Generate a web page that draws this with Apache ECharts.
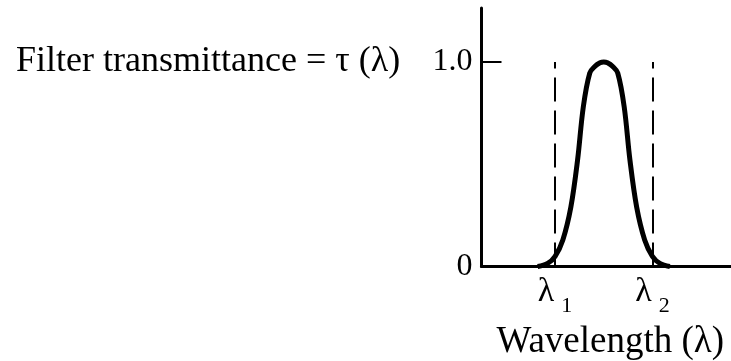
<!DOCTYPE html>
<html>
<head>
<meta charset="utf-8">
<script src="https://cdn.jsdelivr.net/npm/echarts@6/dist/echarts.min.js"></script>
<style>
  html, body { margin: 0; padding: 0; background: #fff; }
  #chart { width: 731px; height: 361px; }
</style>
</head>
<body>
<div id="chart"></div>
<script>
// Filter transmittance curve (arbitrary wavelength units)
const wavelength = [2.25, 2.65, 2.95, 3.26, 3.58, 3.85, 4.08, 4.34, 4.55, 4.75, 4.9, 5.05, 5.25, 5.46, 5.72, 5.95, 6.22, 6.54, 6.85, 7.15, 7.55];
const transmittance = [0, 0.015, 0.05, 0.13, 0.29, 0.52, 0.78, 0.946, 0.979, 0.996, 1.0, 0.996, 0.979, 0.946, 0.78, 0.52, 0.29, 0.13, 0.05, 0.015, 0];

// Band edges λ1 and λ2
const bandEdges = [2.95, 6.85];
const bandSubscripts = ['1', '2'];

// Vertical axis labels
const yTickValues = [0, 1];
const yTickLabels = ['0', '1.0'];

const serif = '"Liberation Serif", "DejaVu Serif", serif';

const chart = echarts.init(document.getElementById('chart'), null, { renderer: 'canvas' });

const curve = wavelength.map((w, i) => [w, transmittance[i]]);

chart.setOption({
  animation: false,
  backgroundColor: '#fff',
  title: {
    text: 'Filter transmittance = τ (λ)',
    left: 11,
    top: 39,
    textStyle: { fontFamily: serif, fontSize: 36, fontWeight: 'normal', color: '#000' }
  },
  grid: { left: 481.5, right: 0, top: 8, bottom: 94.5, outerBoundsMode: 'none', containLabel: false },
  xAxis: {
    type: 'value',
    min: 0,
    max: 10,
    splitLine: { show: false },
    axisLine: { onZero: false, lineStyle: { color: '#000', width: 3 } },
    axisTick: { show: false },
    axisLabel: {
      customValues: bandEdges,
      margin: 9,
      formatter: (v) => '{l|λ}{s|' + bandSubscripts[bandEdges.indexOf(v)] + '}',
      rich: {
        l: { fontFamily: serif, fontSize: 34, color: '#000', lineHeight: 34, verticalAlign: 'top' },
        s: { fontFamily: serif, fontSize: 22, color: '#000', lineHeight: 22, verticalAlign: 'top', padding: [20, 0, 0, 7] }
      }
    },
    name: 'Wavelength (λ)',
    nameLocation: 'middle',
    nameGap: 57,
    nameTextStyle: { fontFamily: serif, fontSize: 37, color: '#000', padding: [0, 0, 0, 8] }
  },
  yAxis: {
    type: 'value',
    min: 0,
    max: 1.264,
    splitLine: { show: false },
    axisLine: { lineStyle: { color: '#000', width: 3 } },
    axisTick: {
      show: true,
      inside: true,
      length: 20,
      customValues: [1],
      lineStyle: { color: '#000', width: 2 }
    },
    axisLabel: {
      customValues: yTickValues,
      margin: 9,
      fontFamily: serif,
      fontSize: 32,
      color: '#000',
      padding: [8, 0, 0, 0],
      formatter: (v) => yTickLabels[yTickValues.indexOf(v)]
    }
  },
  series: [
    {
      type: 'line',
      data: curve,
      smooth: 0.35,
      showSymbol: false,
      silent: true,
      lineStyle: { color: '#000', width: 5 },
      z: 3
    },
    {
      type: 'line',
      data: [],
      silent: true,
      markLine: {
        symbol: 'none',
        silent: true,
        label: { show: false },
        lineStyle: { color: '#000', width: 2, type: [24, 9] },
        data: bandEdges.map((x) => [{ coord: [x, 0] }, { coord: [x, 1] }])
      }
    }
  ]
});
</script>
</body>
</html>
